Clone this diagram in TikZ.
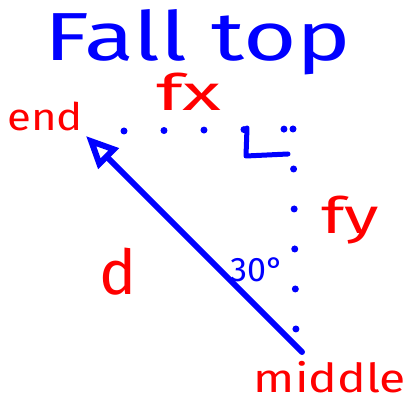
\documentclass[tikz,border=0pt]{standalone}
\usepackage{fontspec}
\setmainfont{Fira Sans}
\usetikzlibrary{arrows.meta}
\definecolor{penblue}{RGB}{0,0,255}
\definecolor{penred}{RGB}{255,0,0}
\begin{document}
\begin{tikzpicture}[x=1pt, y=-1pt]
        \tikzstyle{redtxt} = [text=penred, inner sep=0pt, font=\fontsize{38}{38}\selectfont]
        \tikzstyle{bluetxt} = [text=penblue, inner sep=0pt]
        \tikzstyle{dotline} = [draw=penblue, line width=7pt, line cap=round, dash pattern=on 0pt off 40pt]
        \useasboundingbox (0, 0) rectangle (416, 403);
        \node[bluetxt, font=\fontsize{68}{68}\selectfont, xscale=1.35] (title) at (198, 42) {Fall top};
        \node[redtxt, xscale=1.15] (endlbl) at (45, 116) {end};
        \node[redtxt, font=\fontsize{50}{50}\selectfont, xscale=1.6] (fx) at (189, 92) {fx};
        \node[redtxt, font=\fontsize{50}{50}\selectfont, xscale=1.4] (fy) at (350, 220) {fy};
        \node[redtxt, font=\fontsize{62}{62}\selectfont] (d) at (118, 272) {d};
        \node[bluetxt, font=\fontsize{34}{34}\selectfont] (ang) at (257, 270) {30°};
        \node[redtxt, font=\fontsize{40}{40}\selectfont, xscale=1.2] (middle) at (330, 377) {middle};
        \coordinate (E) at (86, 136);
        \coordinate (M) at (302, 352);
        \coordinate (A) at (124, 131);
        \coordinate (C) at (293, 129);
        \coordinate (B) at (296, 335);
        \draw[dotline] (A) -- (C);
        \draw[dotline] (C) -- (B);
        \draw[penblue, line width=5pt, line cap=round, line join=round] (247, 128) -- (246, 156) -- (288, 154);
        \draw[penblue, line width=6pt, line cap=round, -{Triangle[open, length=32pt, width=28pt]}] (M) -- (E);
      \end{tikzpicture}
\end{document}
